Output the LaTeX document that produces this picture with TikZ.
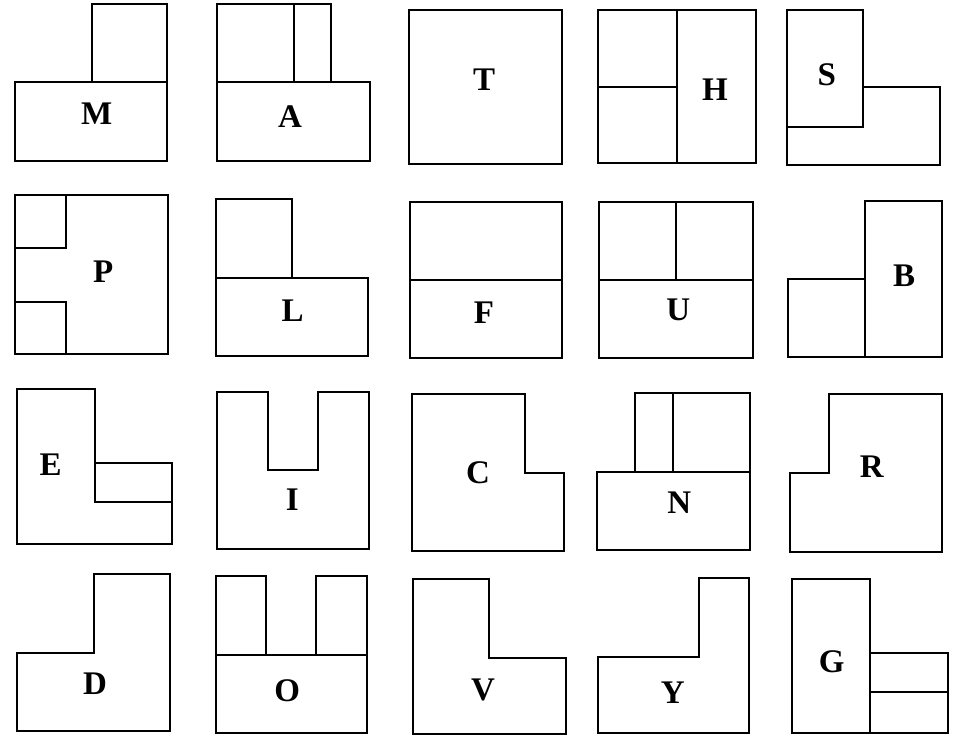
\documentclass[tikz,border=0pt]{standalone}
\usepackage{fontspec}
\setmainfont{Liberation Serif}
\begin{document}
\begin{tikzpicture}[x=1pt,y=-1pt,
  wall/.style={draw=black,line width=2pt,line join=miter},
  lbl/.style={font=\fontsize{33}{33}\selectfont\bfseries,inner sep=0pt,anchor=center}]
\useasboundingbox (0,0) rectangle (958,735);
% Row 1
% M
\draw[wall] (15.3,81.7) rectangle (167.3,160.7);
\draw[wall] (91.7,81.7) -- (91.7,4) -- (167.3,4) -- (167.3,81.7);
\node[lbl] (lM) at (96.7,114) {M};
% A
\draw[wall] (217,82) rectangle (370.3,161.3);
\draw[wall] (217,82) -- (217,4.3) -- (331.3,4.3) -- (331.3,82);
\draw[wall] (293.7,4.3) -- (293.7,82);
\node[lbl] (lA) at (290,116.5) {A};
% T
\draw[wall] (409.3,10) rectangle (561.7,164);
\node[lbl] (lT) at (484,80) {T};
% H
\draw[wall] (598.3,10) rectangle (755.7,162.7);
\draw[wall] (677.3,10) -- (677.3,162.7);
\draw[wall] (598.3,86.7) -- (677.3,86.7);
\node[lbl] (lH) at (715,89.5) {H};
% S
\draw[wall] (787,10) rectangle (863,126.7);
\draw[wall] (787,126.7) -- (787,164.7) -- (939.7,164.7) -- (939.7,87.3) -- (863,87.3);
\node[lbl] (lS) at (826.7,75) {S};
% Row 2
% P
\draw[wall] (15,195) rectangle (168.3,354);
\draw[wall] (15,248.3) -- (66.3,248.3) -- (66.3,195);
\draw[wall] (15,301.7) -- (66.3,301.7) -- (66.3,354);
\node[lbl] (lP) at (103.3,272) {P};
% L
\draw[wall] (216,277.7) rectangle (368,356);
\draw[wall] (216,277.7) -- (216,199.3) -- (292,199.3) -- (292,277.7);
\node[lbl] (lL) at (292.7,310.5) {L};
% F
\draw[wall] (410,202) rectangle (561.7,358.3);
\draw[wall] (410,280) -- (561.7,280);
\node[lbl] (lF) at (484,313) {F};
% U
\draw[wall] (599.3,202.3) rectangle (752.7,358.3);
\draw[wall] (599.3,280) -- (752.7,280);
\draw[wall] (676,202.3) -- (676,280);
\node[lbl] (lU) at (678.3,309.7) {U};
% B
\draw[wall] (865,200.7) rectangle (941.7,357.3);
\draw[wall] (865,278.7) -- (788,278.7) -- (788,357.3) -- (865,357.3);
\node[lbl] (lB) at (904,275.3) {B};
% Row 3
% E
\draw[wall] (16.7,389) -- (95,389) -- (95,463.3) -- (172.3,463.3) -- (172.3,544) -- (16.7,544) -- cycle;
\draw[wall] (95,463.3) -- (95,502) -- (172.3,502);
\node[lbl] (lE) at (50.7,464.2) {E};
% I
\draw[wall] (217,392.3) -- (267.7,392.3) -- (267.7,470.3) -- (318.3,470.3) -- (318.3,392.3) -- (369.3,392.3) -- (369.3,549.3) -- (217,549.3) -- cycle;
\node[lbl] (lI) at (292.3,499.5) {I};
% C
\draw[wall] (412,394.3) -- (525.3,394.3) -- (525.3,473) -- (564.3,473) -- (564.3,551) -- (412,551) -- cycle;
\node[lbl] (lC) at (478,473) {C};
% N
\draw[wall] (597,471.7) rectangle (750,550);
\draw[wall] (635.3,471.7) -- (635.3,393.3) -- (750,393.3) -- (750,471.7);
\draw[wall] (673.3,393.3) -- (673.3,471.7);
\node[lbl] (lN) at (679.3,502.5) {N};
% R
\draw[wall] (829.3,394.3) -- (942.3,394.3) -- (942.3,551.7) -- (790.3,551.7) -- (790.3,473.3) -- (829.3,473.3) -- cycle;
\node[lbl] (lR) at (871.7,466.7) {R};
% Row 4
% D
\draw[wall] (94,574) -- (170.3,574) -- (170.3,731.3) -- (17.3,731.3) -- (17.3,652.7) -- (94,652.7) -- cycle;
\node[lbl] (lD) at (95,683.3) {D};
% O
\draw[wall] (215.7,655.3) rectangle (366.7,733.3);
\draw[wall] (215.7,655.3) -- (215.7,576) -- (266,576) -- (266,655.3);
\draw[wall] (316.3,655.3) -- (316.3,576) -- (366.7,576) -- (366.7,655.3);
\node[lbl] (lO) at (287.3,690.5) {O};
% V
\draw[wall] (412.7,579) -- (489,579) -- (489,657.7) -- (566,657.7) -- (566,733.5) -- (412.7,733.5) -- cycle;
\node[lbl] (lV) at (483,690) {V};
% Y
\draw[wall] (699.3,578) -- (749.3,578) -- (749.3,733.3) -- (598.3,733.3) -- (598.3,656.7) -- (699.3,656.7) -- cycle;
\node[lbl] (lY) at (672.7,692.5) {Y};
% G
\draw[wall] (791.7,579) rectangle (869.7,733.3);
\draw[wall] (869.7,653.3) -- (947.7,653.3) -- (947.7,733.3) -- (869.7,733.3);
\draw[wall] (869.7,692) -- (947.7,692);
\node[lbl] (lG) at (831.7,662) {G};
\end{tikzpicture}
\end{document}
